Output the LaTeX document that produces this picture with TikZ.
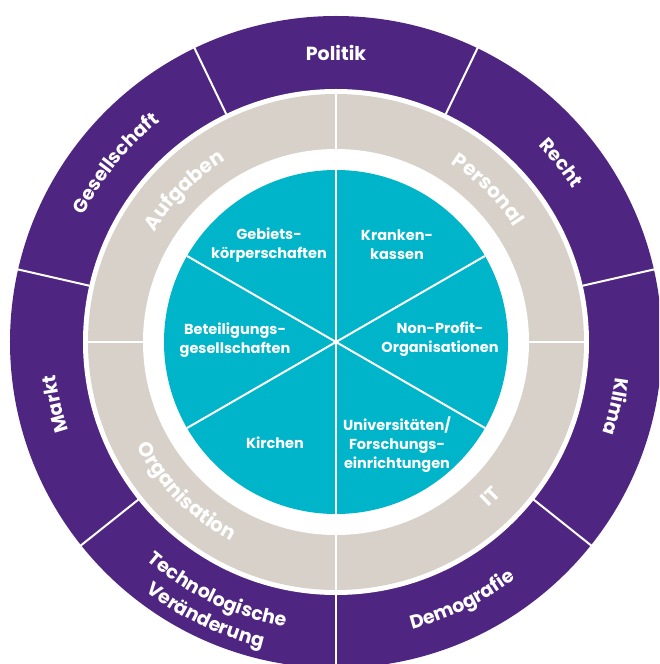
\documentclass[tikz,border=0pt]{standalone}
\usepackage{fontspec}
\setmainfont{Poppins}
\usetikzlibrary{decorations.text}
\definecolor{ringpurple}{HTML}{4F2582}
\definecolor{ringgray}{HTML}{D7D1CA}
\definecolor{coreteal}{HTML}{00B5C9}
\tikzset{
  sepline/.style={white, line width=2pt},
  corelabel/.style={text=white, font=\bfseries\fontsize{14.5}{19}\selectfont, align=center, inner sep=0pt},
}
\newcommand{\arclabel}[5]{%
  \path[decorate, decoration={text along path, text align=center, text color=white,
    text={|#4|#5}}] (#1:#3) arc[start angle=#1, end angle=#2, radius=#3];}
\newcommand{\outfont}{\bfseries\fontsize{19}{19}\selectfont}
\newcommand{\midfont}{\bfseries\fontsize{20}{20}\selectfont}
\begin{document}
\begin{tikzpicture}
  \fill[white] (-336pt,-322pt) rectangle (323pt,342pt);
  \clip (-336pt,-322pt) rectangle (323pt,342pt);
  % outer purple ring
  \fill[ringpurple] (0,0) circle (326pt);
  \fill[white] (0,0) circle (253pt);
  % gray ring
  \fill[ringgray] (0,0) circle (248pt);
  \fill[white] (0,0) circle (193pt);
  % teal core
  \fill[coreteal] (0,0) circle (172pt);
  % purple dividers
  \foreach \a in {115.714,167.143,218.571,270,321.429,12.857,64.286}
    \draw[sepline] (\a:253pt) -- (\a:330pt);
  % gray dividers
  \foreach \a in {0,90,180,270}
    \draw[sepline] (\a:193pt) -- (\a:248pt);
  % teal dividers
  \foreach \a in {30,90,150}
    \draw[sepline] (\a:172pt) -- (\a+180:172pt);
  % outer labels
  \node[text=white, font=\outfont, anchor=base] (politik) at (0pt,281pt) {Politik};
  \arclabel{64}{13}{282pt}{\outfont}{Recht}
  \arclabel{12}{-38}{282pt}{\outfont}{Klima}
  \arclabel{-90}{-38}{297pt}{\outfont}{Demografie}
  \arclabel{219}{270}{289pt}{\outfont}{Technologische}
  \arclabel{219}{270}{314pt}{\outfont}{Veränderung}
  \arclabel{218}{167}{282pt}{\outfont}{Markt}
  \arclabel{166}{116}{282pt}{\outfont}{Gesellschaft}
  % middle labels
  \arclabel{178}{92}{212pt}{\midfont}{Aufgaben}
  \arclabel{88}{2}{212pt}{\midfont}{Personal}
  \arclabel{-88}{-2}{225pt}{\midfont}{IT}
  \arclabel{182}{268}{225pt}{\midfont}{Organisation}
  % core labels
  \node[corelabel] (gebiets) at (-67pt,97pt) {Gebiets-\\körperschaften};
  \node[corelabel] (kranken) at (61pt,97pt) {Kranken-\\kassen};
  \node[corelabel] (beteil) at (-101pt,2pt) {Beteiligungs-\\gesellschaften};
  \node[corelabel] (nonprofit) at (104pt,3pt) {Non-Profit-\\Organisationen};
  \node[corelabel] (kirchen) at (-61pt,-101pt) {Kirchen};
  \node[corelabel] (uni) at (61pt,-103pt) {Universitäten/\\Forschungs-\\einrichtungen};
\end{tikzpicture}
\end{document}
